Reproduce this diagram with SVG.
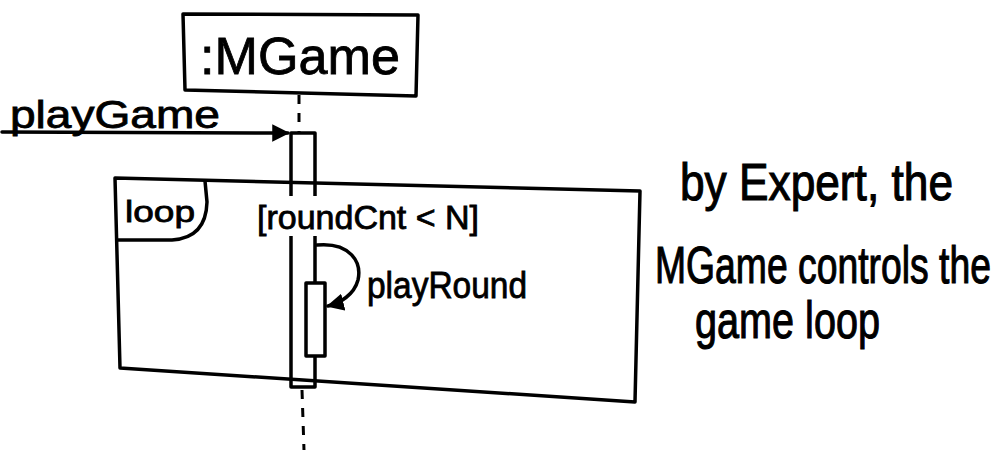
<svg xmlns="http://www.w3.org/2000/svg" width="1005" height="450" viewBox="0 0 1005 450">
<style>
.ln{fill:none;stroke:#000;stroke-width:3.5;stroke-linejoin:round;stroke-linecap:round}
.box{fill:#fff;stroke:#000;stroke-width:3.5;stroke-linejoin:round}
.dash{fill:none;stroke:#000;stroke-width:3;stroke-dasharray:9 9}
.t{font-family:"Liberation Sans",Arial,sans-serif;fill:#000;stroke:#000;stroke-width:0.8}
.n{font-size:37px}
</style>
<defs>
<marker id="ah" viewBox="0 0 10 10" refX="9" refY="5" markerWidth="5" markerHeight="5" orient="auto" markerUnits="strokeWidth">
<path d="M0,0 L10,5 L0,10 Z" fill="#000"/>
</marker>
</defs>
<rect width="1005" height="450" fill="#fff"/>

<g id="lifeline">
<line class="dash" x1="299" y1="95" x2="299" y2="133"/>
<line class="dash" x1="302" y1="390" x2="304" y2="450"/>
</g>

<g id="loop-frame">
<polygon class="ln" points="115,178 640,191 635,402 120,368"/>
<path class="ln" d="M117,240 L172,240 Q206,238 207,202 L205,181"/>
<text class="t" x="160" y="222" font-size="30" text-anchor="middle" textLength="70" lengthAdjust="spacingAndGlyphs">loop</text>
</g>

<g id="mgame">
<polygon class="box" points="183,14 418,15 416,96 185,90"/>
<text class="t" x="300" y="74" font-size="52" text-anchor="middle" textLength="200" lengthAdjust="spacingAndGlyphs">:MGame</text>
</g>

<g id="activation-outer">
<rect class="ln" x="291" y="133" width="24" height="254" fill="none"/>
</g>

<g id="guard">
<rect x="255" y="196" width="228" height="40" fill="#fff"/>
<text class="t" x="368" y="229" font-size="33" text-anchor="middle" textLength="222" lengthAdjust="spacingAndGlyphs">[roundCnt &lt; N]</text>
</g>

<g id="activation-inner">
<rect class="box" x="306" y="283" width="19" height="73"/>
</g>

<g id="connectors">
<line class="ln" x1="2" y1="132" x2="288" y2="133" marker-end="url(#ah)"/>
<path class="ln" d="M317,245 C350,242 362,262 358,280 C354,295 340,303 328,306" marker-end="url(#ah)"/>
<text class="t" x="10" y="128" font-size="38" textLength="210" lengthAdjust="spacingAndGlyphs">playGame</text>
<text class="t" x="367" y="298" font-size="36" textLength="160" lengthAdjust="spacingAndGlyphs">playRound</text>
</g>

<g id="note">
<text class="t n" transform="translate(680,200) scale(1,1.4)" x="0" y="0" textLength="273" lengthAdjust="spacingAndGlyphs">by Expert, the</text>
<text class="t n" transform="translate(655,283) scale(1,1.4)" x="0" y="0" textLength="336" lengthAdjust="spacingAndGlyphs">MGame controls the</text>
<text class="t n" transform="translate(695,338) scale(1,1.4)" x="0" y="0" textLength="185" lengthAdjust="spacingAndGlyphs">game loop</text>
</g>
</svg>
